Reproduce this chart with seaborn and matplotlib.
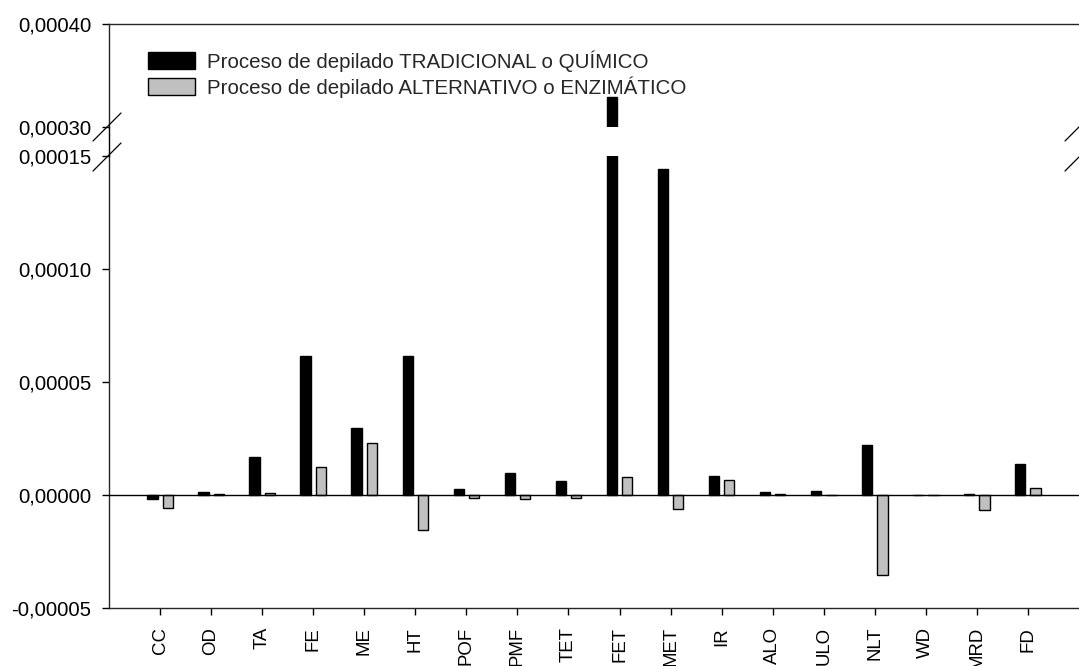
import numpy as np
import pandas as pd
import matplotlib
matplotlib.use("Agg")
import matplotlib.pyplot as plt
from matplotlib.lines import Line2D
import seaborn as sns

# ---- data -------------------------------------------------------------
categorias = ['CC', 'OD', 'TA', 'FE', 'ME', 'HT', 'POF', 'PMF', 'TET',
              'FET', 'MET', 'IR', 'ALO', 'ULO', 'NLT', 'WD', 'MRD', 'FD']
tradicional = [-1.6e-6, 1.5e-6, 17.0e-6, 61.7e-6, 29.6e-6, 61.7e-6, 2.8e-6,
               9.9e-6, 6.1e-6, 329.0e-6, 144.2e-6, 8.3e-6, 1.2e-6, 1.8e-6,
               22.3e-6, 0.0, 0.5e-6, 13.5e-6]
alternativo = [-5.9e-6, 0.5e-6, 0.8e-6, 12.4e-6, 23.2e-6, -15.6e-6, -1.2e-6,
               -1.6e-6, -1.3e-6, 7.8e-6, -6.0e-6, 6.6e-6, 0.5e-6, 0.0,
               -35.2e-6, 0.0, -6.5e-6, 3.3e-6]
serie_trad = 'Proceso de depilado TRADICIONAL o QUÍMICO'
serie_alt = 'Proceso de depilado ALTERNATIVO o ENZIMÁTICO'

yticks_bajo = [-0.00005, 0.0, 0.00005, 0.00010, 0.00015]
ylabels_bajo = ['-0,00005', '0,00000', '0,00005', '0,00010', '0,00015']
yticks_alto = [0.00030, 0.00040]
ylabels_alto = ['0,00030', '0,00040']

# ---- style ------------------------------------------------------------
sns.set_style('ticks')
plt.rcParams['font.family'] = ['Liberation Sans', 'DejaVu Sans']
plt.rcParams['axes.linewidth'] = 1.0

W, H = 1079, 666
fig = plt.figure(figsize=(W / 100, H / 100), dpi=100)


def px_axes(left, top, right, bottom):
    return fig.add_axes([left / W, 1 - bottom / H, (right - left) / W, (bottom - top) / H])


ax_hi = px_axes(109, 24, 1079, 127)
ax_lo = px_axes(109, 156, 1079, 608)

n = len(categorias)
df = pd.DataFrame({
    'categoria': categorias * 2,
    'proceso': [serie_trad] * n + [serie_alt] * n,
    'valor': tradicional + alternativo,
})

for ax in (ax_hi, ax_lo):
    sns.barplot(data=df, x='categoria', y='valor', hue='proceso',
                order=categorias, hue_order=[serie_trad, serie_alt],
                palette=['black', '#C0C0C0'], saturation=1,
                width=0.6, gap=0.33, edgecolor='black', linewidth=1.0,
                errorbar=None, legend=(ax is ax_lo), ax=ax)
    ax.set_xlim(-1, 18)
    ax.set_xlabel('')
    ax.set_ylabel('')
    ax.spines['right'].set_visible(False)
    ax.tick_params(axis='y', length=5.4, width=1.0, pad=7.5,
                   labelsize=14.6, colors='black')

# upper panel
ax_hi.set_ylim(0.00030, 0.00040)
ax_hi.set_yticks(yticks_alto)
ax_hi.set_yticklabels(ylabels_alto)
ax_hi.spines['bottom'].set_visible(False)
ax_hi.set_xticks([])

# lower panel
ax_lo.set_ylim(-0.00005, 0.00015)
ax_lo.set_yticks(yticks_bajo)
ax_lo.set_yticklabels(ylabels_bajo)
ax_lo.spines['top'].set_visible(False)
ax_lo.tick_params(axis='x', length=5, width=1.0, pad=8.6, labelsize=13.4,
                  labelrotation=90, colors='black')
ax_lo.axhline(0, color='black', lw=1.0, zorder=3)

# axis continuation through the break and break marks
fig.add_artist(Line2D([109 / W, 109 / W], [1 - 127 / H, 1 - 156 / H],
                      color='black', lw=1.0, transform=fig.transFigure))


def break_mark(cx, cy):
    fig.add_artist(Line2D([(cx - 14) / W, (cx + 14) / W],
                          [1 - (cy + 14) / H, 1 - (cy - 14) / H],
                          color='black', lw=0.9, transform=fig.transFigure))


for cx in (107, 1079):
    break_mark(cx, 127)
    break_mark(cx, 157)

# legend
leg = ax_lo.get_legend()
handles = leg.legend_handles
labels = [t.get_text() for t in leg.get_texts()]
leg.remove()
for h in handles:
    h.set_edgecolor('black')
    h.set_linewidth(1.0)
fig.legend(handles, labels, loc='upper left',
           bbox_to_anchor=(148 / W, 1 - 50 / H), bbox_transform=fig.transFigure,
           frameon=False, fontsize=14.8, handlelength=2.3, handleheight=0.85,
           handletextpad=0.55, labelspacing=0.22, borderpad=0, borderaxespad=0)

fig.savefig('out.png', dpi=100)
